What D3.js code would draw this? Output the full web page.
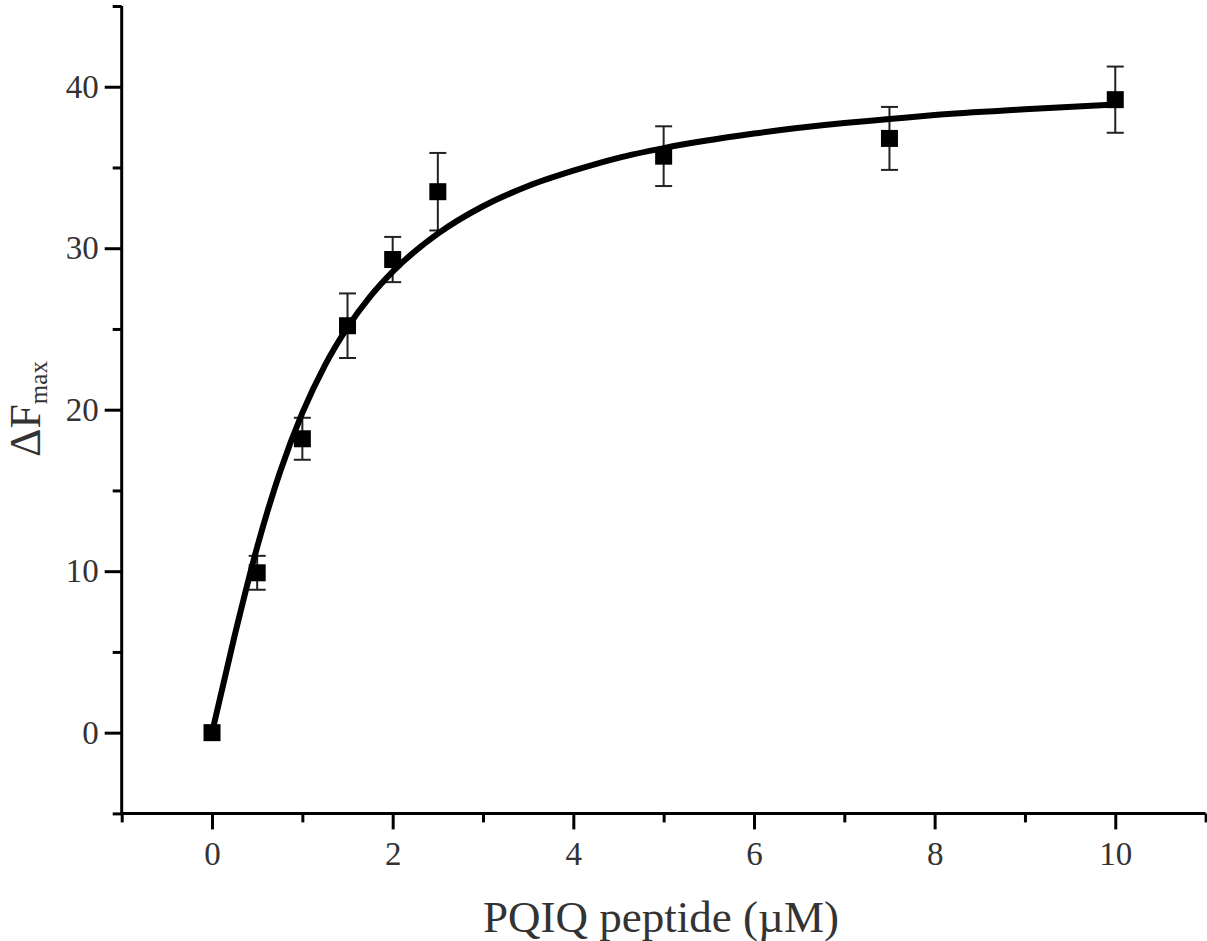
<!DOCTYPE html>
<html lang="en">

<head>
    <meta charset="UTF-8">
    <title>PQIQ peptide binding</title>
    <script src="https://d3js.org/d3.v7.min.js"></script>
    <style>
        body {
            margin: 0;
            background: #fff;
        }

        .axis path,
        .axis line {
            stroke: #000;
            stroke-width: 3px;
        }

        .axis text {
            font: 33px "Liberation Serif", "Times New Roman", serif;
            fill: #333;
        }

        .title {
            font-family: "Liberation Serif", "Times New Roman", serif;
            fill: #333;
        }
    </style>
</head>

<body>
    <script>
        // measured points
        const conc = [0, 0.5, 1, 1.5, 2, 2.5, 5, 7.5, 10];
        const deltaF = [0, 9.9, 18.2, 25.2, 29.3, 33.5, 35.7, 36.8, 39.2];
        const errs = [0, 1.05, 1.3, 2.0, 1.4, 2.4, 1.85, 1.95, 2.05];

        // fitted curve
        const fitX = [0, 0.25, 0.5, 0.75, 1, 1.25, 1.5, 1.75, 2, 2.5, 3, 3.5, 4, 4.5, 5, 6, 7, 7.5, 8, 9, 10];
        const fitY = [0, 6.0, 11.5, 16.1, 19.8, 22.75, 25.1, 27.0, 28.55, 30.9, 32.6, 33.85, 34.8, 35.6, 36.2, 37.1, 37.75, 38.0, 38.25, 38.6, 38.9];

        const xMajor = [0, 2, 4, 6, 8, 10];
        const xMinor = [-1, 1, 3, 5, 7, 9, 11];
        const yMajor = [0, 10, 20, 30, 40];
        const yMinor = [-5, 5, 15, 25, 35, 45];

        const width = 1207;
        const height = 941;

        const x = d3.scaleLinear().domain([-1, 11]).range([121.7, 1205.6]);
        const y = d3.scaleLinear().domain([-5, 45]).range([813.4, 6]);

        const svg = d3.select("body").append("svg")
            .attr("width", width)
            .attr("height", height);

        // minor ticks first, then the major axis on top
        svg.append("g")
            .attr("class", "axis")
            .attr("transform", `translate(0,${y(-5)})`)
            .call(d3.axisBottom(x).tickValues(xMinor).tickSize(9).tickSizeOuter(0).tickFormat(""))
            .call(g => g.select(".domain").remove());

        svg.append("g")
            .attr("class", "axis")
            .attr("transform", `translate(${x(-1)},0)`)
            .call(d3.axisLeft(y).tickValues(yMinor).tickSize(9).tickSizeOuter(0).tickFormat(""))
            .call(g => g.select(".domain").remove());

        const xAxis = svg.append("g")
            .attr("class", "axis")
            .attr("transform", `translate(0,${y(-5)})`)
            .call(d3.axisBottom(x).tickValues(xMajor).tickSize(16).tickSizeOuter(0).tickPadding(12));
        xAxis.select(".domain").attr("d", `M${x(-1)},0H${x(11)}`);

        const yAxis = svg.append("g")
            .attr("class", "axis")
            .attr("transform", `translate(${x(-1)},0)`)
            .call(d3.axisLeft(y).tickValues(yMajor).tickSize(17).tickSizeOuter(0).tickPadding(6));
        yAxis.select(".domain").attr("d", `M0,${y(45)}V${y(-5)}`);

        // error bars
        const pts = conc.map((c, i) => ({ x: c, y: deltaF[i], e: errs[i] }));
        const capW = 8.5;
        const bars = svg.append("g")
            .attr("stroke", "#222")
            .attr("stroke-width", 2);
        pts.filter(d => d.e > 0).forEach(d => {
            bars.append("line")
                .attr("x1", x(d.x)).attr("x2", x(d.x))
                .attr("y1", y(d.y - d.e)).attr("y2", y(d.y + d.e));
            [d.y - d.e, d.y + d.e].forEach(v => {
                bars.append("line")
                    .attr("x1", x(d.x) - capW).attr("x2", x(d.x) + capW)
                    .attr("y1", y(v)).attr("y2", y(v));
            });
        });

        // fit line
        const line = d3.line()
            .x(d => x(d[0]))
            .y(d => y(d[1]))
            .curve(d3.curveMonotoneX);
        svg.append("path")
            .datum(fitX.map((v, i) => [v, fitY[i]]))
            .attr("fill", "none")
            .attr("stroke", "#000")
            .attr("stroke-width", 6)
            .attr("d", line);

        // squares
        const sq = 17;
        svg.append("g")
            .selectAll("rect")
            .data(pts)
            .enter().append("rect")
            .attr("x", d => x(d.x) - sq / 2)
            .attr("y", d => y(d.y) - sq / 2)
            .attr("width", sq)
            .attr("height", sq)
            .attr("fill", "#000");

        // axis titles
        svg.append("text")
            .attr("class", "title")
            .attr("x", 661)
            .attr("y", 932)
            .attr("text-anchor", "middle")
            .style("font-size", "45px")
            .text("PQIQ peptide (\u00b5M)");

        const yTitle = svg.append("text")
            .attr("class", "title")
            .attr("transform", "translate(40,409) rotate(-90)")
            .attr("text-anchor", "middle")
            .style("font-size", "44px");
        yTitle.append("tspan").text("\u0394F");
        yTitle.append("tspan")
            .attr("dy", 7)
            .style("font-size", "25px")
            .text("max");
    </script>
</body>

</html>
